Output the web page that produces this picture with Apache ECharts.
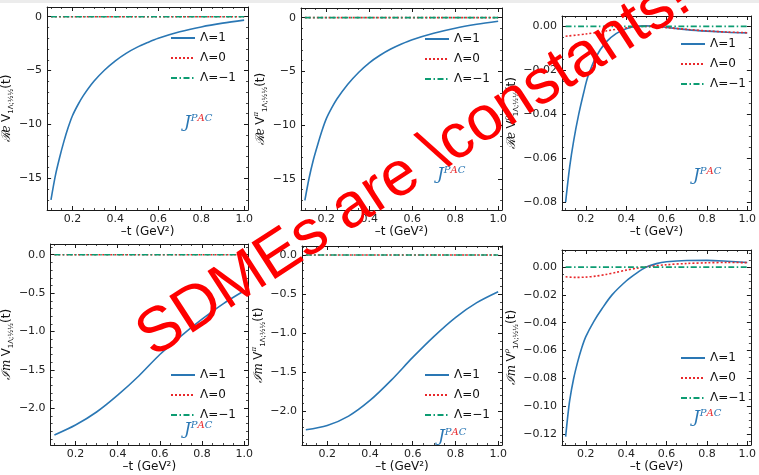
<!DOCTYPE html>
<html><head><meta charset="utf-8">
<script src="https://cdn.jsdelivr.net/npm/echarts@6/dist/echarts.min.js"></script>
<style>html,body{margin:0;padding:0;background:#fff}#c{width:759px;height:475px}</style>
</head><body><div id="c"></div><script>
// ---------- data ----------
const legendNames = ['Λ=1', 'Λ=0', 'Λ=−1'];
const tEnds = [0.1, 1.0];
const zeros = [0, 0];

const tRe = [0.10,0.12,0.14,0.16,0.18,0.20,0.225,0.25,0.30,0.35,0.40,0.45,0.50,0.55,0.60,0.70,0.80,0.90,1.00];
const reV_L1 = [-17.0,-14.8,-13.1,-11.6,-10.3,-9.2,-8.2,-7.35,-6.0,-4.95,-4.1,-3.4,-2.85,-2.4,-2.0,-1.4,-0.95,-0.6,-0.32];
const reVpi_L1 = [-17.0,-14.9,-13.2,-11.8,-10.5,-9.4,-8.4,-7.55,-6.2,-5.1,-4.2,-3.5,-2.92,-2.45,-2.05,-1.45,-0.98,-0.62,-0.33];

const tRho = [0.10,0.12,0.14,0.165,0.19,0.21,0.25,0.30,0.35,0.40,0.45,0.50,0.55,0.60,0.70,0.80,0.90,1.00];
const reVrho_L1 = [-0.080,-0.064,-0.052,-0.040,-0.030,-0.023,-0.014,-0.0072,-0.0033,-0.0011,0.0000,0.0002,0.0000,-0.0005,-0.0015,-0.0022,-0.0027,-0.0030];
const tRho0 = [0.1,0.2,0.3,0.4,0.5,0.6,0.7,0.8,0.9,1.0];
const reVrho_L0 = [-0.0045,-0.0035,-0.0021,-0.0007,0.0000,-0.0006,-0.0014,-0.0021,-0.0026,-0.0029];

const tIm = [0.1,0.2,0.3,0.4,0.5,0.6,0.7,0.8,0.9,1.0];
const imV_L1 = [-2.35,-2.22,-2.05,-1.83,-1.58,-1.30,-1.06,-0.84,-0.64,-0.47];
const imVpi_L1 = [-2.235,-2.18,-2.06,-1.86,-1.60,-1.31,-1.04,-0.80,-0.61,-0.47];

const tImRho = [0.10,0.11,0.12,0.14,0.16,0.18,0.20,0.24,0.28,0.33,0.40,0.45,0.50,0.55,0.60,0.70,0.80,0.90,1.00];
const imVrho_L1 = [-0.122,-0.108,-0.096,-0.080,-0.068,-0.058,-0.050,-0.039,-0.030,-0.020,-0.010,-0.0045,0.000,0.0025,0.0038,0.0047,0.0048,0.0042,0.0033];
const tImRho0 = [0.10,0.15,0.20,0.25,0.30,0.35,0.40,0.45,0.50,0.60,0.70,0.80,0.90,1.00];
const imVrho_L0 = [-0.0070,-0.0074,-0.0072,-0.0065,-0.0053,-0.0038,-0.0022,-0.0009,0.0002,0.0017,0.0026,0.0031,0.0033,0.0032];

// ---------- ticks ----------
const xTicks = [0.2,0.4,0.6,0.8,1.0];
const xTickLabels = ['0.2','0.4','0.6','0.8','1.0'];
const xMinor = [0.1,0.15,0.25,0.3,0.35,0.45,0.5,0.55,0.65,0.7,0.75,0.85,0.9,0.95];

const yTicksRe = [-15,-10,-5,0];
const yLabelsRe = ['−15','−10','−5','0'];
const yMinorRe = [-17,-16,-14,-13,-12,-11,-9,-8,-7,-6,-4,-3,-2,-1];

const yTicksRho = [-0.08,-0.06,-0.04,-0.02,0];
const yLabelsRho = ['−0.08','−0.06','−0.04','−0.02','0.00'];
const yMinorRho = [-0.075,-0.07,-0.065,-0.055,-0.05,-0.045,-0.035,-0.03,-0.025,-0.015,-0.01,-0.005];

const yTicksIm = [-2.0,-1.5,-1.0,-0.5,0];
const yLabelsIm = ['−2.0','−1.5','−1.0','−0.5','0.0'];
const yMinorIm = [-2.4,-2.3,-2.2,-2.1,-1.9,-1.8,-1.7,-1.6,-1.4,-1.3,-1.2,-1.1,-0.9,-0.8,-0.7,-0.6,-0.4,-0.3,-0.2,-0.1,0.1];

const yTicksImRho = [-0.12,-0.10,-0.08,-0.06,-0.04,-0.02,0];
const yLabelsImRho = ['−0.12','−0.10','−0.08','−0.06','−0.04','−0.02','0.00'];
const yMinorImRho = [-0.125,-0.115,-0.11,-0.105,-0.095,-0.09,-0.085,-0.075,-0.07,-0.065,-0.055,-0.05,-0.045,-0.035,-0.03,-0.025,-0.015,-0.01,-0.005,0.005,0.01];

// ---------- styling ----------
const BLUE = '#2a77b4', RED = '#e8282b', GREEN = '#0c9c72';
const AX = '#1a1a1a';
const FONT = 'DejaVu Sans';
const xMin = 0.082, xMax = 1.018;

const yNameRich = {
  r: {fontFamily: 'DejaVu Serif', fontStyle: 'italic', fontSize: 12, lineHeight: 16, color: '#111'},
  v: {fontFamily: FONT, fontSize: 12, lineHeight: 16, color: '#111'},
  s: {fontFamily: FONT, fontSize: 7, lineHeight: 7, verticalAlign: 'bottom', color: '#111'},
  u: {fontFamily: 'DejaVu Serif', fontStyle: 'italic', fontSize: 7, lineHeight: 7, verticalAlign: 'top', color: '#111'}
};
function yName(part, sup) {
  return '{r|' + part + '} {v|V}' + (sup ? '{u|' + sup + '}' : '') + '{s|1Λ;½½}{v|(t)}';
}

const panels = [
  {grid:{left:46,top:7,width:202,height:203}, yMin:-17.95, yMax:0.9, yT:yTicksRe, yL:yLabelsRe, yM:yMinorRe,
   name:yName('ℛe',''), gap:18, lines:[[tRe,reV_L1],[tEnds,zeros],[tEnds,zeros]], leg:[170,31], jp:[184,123]},
  {grid:{left:301,top:8,width:201,height:202}, yMin:-17.9, yMax:0.9, yT:yTicksRe, yL:yLabelsRe, yM:yMinorRe,
   name:yName('ℛe','π'), gap:20, lines:[[tRe,reVpi_L1],[tEnds,zeros],[tEnds,zeros]], leg:[424,32], jp:[437,175]},
  {grid:{left:562,top:16,width:195,height:194}, yMin:-0.0836, yMax:0.0047, yT:yTicksRho, yL:yLabelsRho, yM:yMinorRho,
   name:yName('ℛe','ρ'), gap:27, lines:[[tRho,reVrho_L1],[tRho0,reVrho_L0],[tEnds,zeros]], leg:[680,37], jp:[693,176]},
  {grid:{left:48,top:244,width:200,height:201}, yMin:-2.48, yMax:0.14, yT:yTicksIm, yL:yLabelsIm, yM:yMinorIm,
   name:yName('ℐm',''), gap:21, lines:[[tIm,imV_L1],[tEnds,zeros],[tEnds,zeros]], leg:[170,368], jp:[184,430]},
  {grid:{left:302,top:246,width:200,height:199}, yMin:-2.43, yMax:0.115, yT:yTicksIm, yL:yLabelsIm, yM:yMinorIm,
   name:yName('ℐm','π'), gap:22, lines:[[tIm,imVpi_L1],[tEnds,zeros],[tEnds,zeros]], leg:[424,368], jp:[438,437]},
  {grid:{left:562,top:250,width:195,height:195}, yMin:-0.128, yMax:0.0123, yT:yTicksImRho, yL:yLabelsImRho, yM:yMinorImRho,
   name:yName('ℐm','ρ'), gap:29, lines:[[tImRho,imVrho_L1],[tImRho0,imVrho_L0],[tEnds,zeros]], leg:[680,351], jp:[693,418]}
];

const lineStyles = [
  {color: BLUE, width: 1.6, type: 'solid'},
  {color: RED, width: 1.6, type: [2, 2]},
  {color: GREEN, width: 1.6, type: [6, 2.5, 1.5, 2.5]}
];

function fmt(ticks, labels) {
  return function (v) {
    for (let i = 0; i < ticks.length; i++) if (Math.abs(v - ticks[i]) < 1e-9) return labels[i];
    return '';
  };
}

const grids = [], xAxes = [], yAxes = [], series = [], legends = [], graphics = [];
panels.forEach((p, gi) => {
  grids.push(Object.assign({containLabel: false}, p.grid));
  const xi = xAxes.length, yi = yAxes.length;
  const baseX = {type:'value', gridIndex:gi, min:xMin, max:xMax, splitLine:{show:false}};
  const baseY = {type:'value', gridIndex:gi, min:p.yMin, max:p.yMax, splitLine:{show:false}};
  const line = {show:true, onZero:false, lineStyle:{color:AX, width:1}};
  const noLine = {show:false, onZero:false};
  const tickMaj = vals => ({show:true, inside:true, length:4, customValues:vals, lineStyle:{color:AX, width:1}});
  const tickMin = vals => ({show:true, inside:true, length:2, customValues:vals, lineStyle:{color:AX, width:0.8}});
  xAxes.push(Object.assign({}, baseX, {position:'bottom', axisLine:line, axisTick:tickMaj(xTicks),
    axisLabel:{show:true, customValues:xTicks, formatter:fmt(xTicks, xTickLabels), margin:4, fontSize:11, fontFamily:FONT, color:'#222'},
    name:'–t (GeV²)', nameLocation:'middle', nameGap:14, nameTextStyle:{fontFamily:FONT, fontSize:12, color:'#111'}}));
  xAxes.push(Object.assign({}, baseX, {position:'bottom', axisLine:noLine, axisTick:tickMin(xMinor), axisLabel:{show:false}}));
  xAxes.push(Object.assign({}, baseX, {position:'top', axisLine:line, axisTick:tickMaj(xTicks), axisLabel:{show:false}}));
  xAxes.push(Object.assign({}, baseX, {position:'top', axisLine:noLine, axisTick:tickMin(xMinor), axisLabel:{show:false}}));
  yAxes.push(Object.assign({}, baseY, {position:'left', axisLine:line, axisTick:tickMaj(p.yT),
    axisLabel:{show:true, customValues:p.yT, formatter:fmt(p.yT, p.yL), margin:5, fontSize:11, fontFamily:FONT, color:'#222'},
    name:p.name, nameLocation:'middle', nameRotate:90, nameGap:p.gap, nameTextStyle:{rich:yNameRich}}));
  yAxes.push(Object.assign({}, baseY, {position:'left', axisLine:noLine, axisTick:tickMin(p.yM), axisLabel:{show:false}}));
  yAxes.push(Object.assign({}, baseY, {position:'right', axisLine:line, axisTick:tickMaj(p.yT), axisLabel:{show:false}}));
  yAxes.push(Object.assign({}, baseY, {position:'right', axisLine:noLine, axisTick:tickMin(p.yM), axisLabel:{show:false}}));

  p.lines.forEach((ln, k) => {
    series.push({
      type:'line', name:legendNames[k], xAxisIndex:xi, yAxisIndex:yi,
      data: ln[0].map((t, j) => [t, ln[1][j]]),
      showSymbol:false, symbol:'none', smooth:0.3,
      lineStyle: lineStyles[k], itemStyle:{color: lineStyles[k].color},
      z: 2 + k, animation:false, silent:true
    });
  });

  legends.push({
    data: legendNames, orient:'vertical', left:p.leg[0], top:p.leg[1] + 1, padding:0,
    itemWidth:24, itemHeight:12, itemGap:8, selectedMode:false,
    itemStyle:{opacity:0}, lineStyle:{width:2},
    textStyle:{fontFamily:FONT, fontSize:12, color:'#111'}
  });

  graphics.push({
    type:'text', x:p.jp[0], y:p.jp[1], z:50,
    style:{
      text:'{j|J}{p|P}{a|A}{c|C}', align:'left', verticalAlign:'middle', textAlign:'left', textVerticalAlign:'middle',
      rich:{
        j:{fontFamily:'DejaVu Serif', fontStyle:'italic', fontSize:17, lineHeight:19, fill:BLUE},
        p:{fontFamily:'DejaVu Serif', fontStyle:'italic', fontSize:10, lineHeight:10, verticalAlign:'top', fill:BLUE},
        a:{fontFamily:'DejaVu Serif', fontStyle:'italic', fontSize:10, lineHeight:10, verticalAlign:'top', fill:RED},
        c:{fontFamily:'DejaVu Serif', fontStyle:'italic', fontSize:10, lineHeight:10, verticalAlign:'top', fill:BLUE}
      }
    }
  });
});

graphics.push({type:'rect', shape:{x:0, y:0, width:759, height:3}, style:{fill:'#ececec'}, z:1});
graphics.push({
  type:'text', x:414, y:168, rotation: 33 * Math.PI / 180, z:200,
  style:{text:'SDMEs are \\constants!', fontFamily:'Liberation Sans', fontSize:63, fill:'#ff0000',
    align:'center', verticalAlign:'middle', textAlign:'center', textVerticalAlign:'middle'}
});

const chart = echarts.init(document.getElementById('c'), null, {renderer:'canvas'});
chart.setOption({
  animation:false,
  backgroundColor:'#fff',
  grid:grids, xAxis:xAxes, yAxis:yAxes, series:series, legend:legends,
  graphic:{elements:graphics}
});
</script></body></html>
